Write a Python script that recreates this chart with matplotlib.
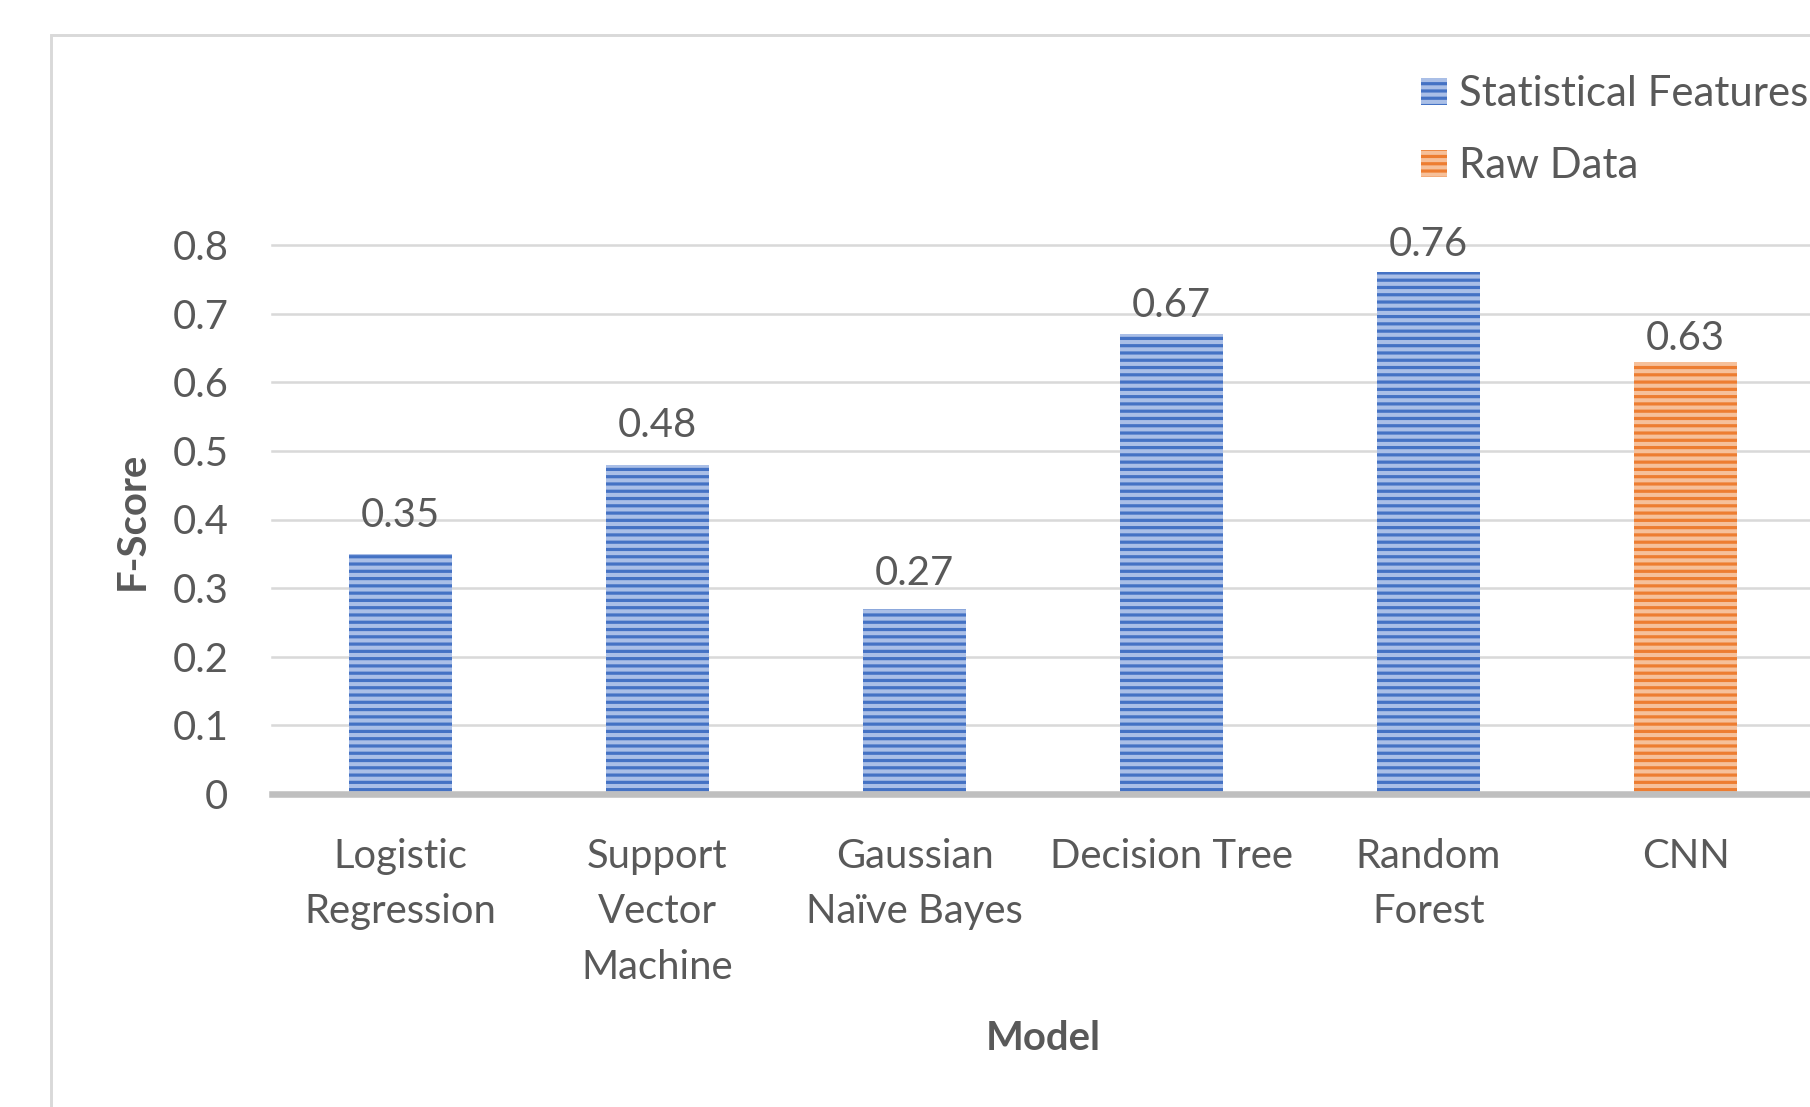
import matplotlib
matplotlib.use("Agg")
import matplotlib.pyplot as plt
from matplotlib.patches import Rectangle

# Data
models = ["Logistic\nRegression", "Support\nVector\nMachine", "Gaussian\nNaïve Bayes",
          "Decision Tree", "Random\nForest", "CNN"]
feature_models = models[:5]
feature_scores = [0.35, 0.48, 0.27, 0.67, 0.76]
raw_models = models[5:]
raw_scores = [0.63]
yticks = [0, 0.1, 0.2, 0.3, 0.4, 0.5, 0.6, 0.7, 0.8]

# gap (points) between bar top and its value label, as placed in the original
feature_label_gap = [14.7, 15, 13.2, 9.2, 9.2]
raw_label_gap = [6.2]

TEXT = "#595959"
GRID = "#d9d9d9"
BLUE = "#4472c4"
BLUE_LIGHT = "#aabfe7"
ORANGE = "#ed7d31"
ORANGE_LIGHT = "#f6c09a"

DPI = 131
FS = 22

plt.rcParams["font.family"] = ["Lato", "DejaVu Sans"]
plt.rcParams["hatch.linewidth"] = 1.75

fig = plt.figure(figsize=(1810 / DPI, 1107 / DPI), dpi=DPI)
ax = fig.add_axes([272 / 1810, 1 - 794 / 1107, 1542 / 1810, 549 / 1107])

x_feat = [models.index(m) for m in feature_models]
x_raw = [models.index(m) for m in raw_models]

bars1 = ax.bar(x_feat, feature_scores, width=0.4, color=BLUE_LIGHT, edgecolor=BLUE,
               linewidth=0, hatch="---", label="Statistical Features", zorder=2)
bars2 = ax.bar(x_raw, raw_scores, width=0.4, color=ORANGE_LIGHT, edgecolor=ORANGE,
               linewidth=0, hatch="---", label="Raw Data", zorder=2)

# data labels
for bars, vals, gaps in ((bars1, feature_scores, feature_label_gap),
                         (bars2, raw_scores, raw_label_gap)):
    for b, v, g in zip(bars, vals, gaps):
        ax.annotate(f"{v:.2f}", (b.get_x() + b.get_width() / 2, v),
                    xytext=(0, g), textcoords="offset points",
                    ha="center", va="baseline", fontsize=FS, color=TEXT)

ax.set_xlim(-0.5, len(models) - 0.5)
ax.set_ylim(0, 0.8)
ax.set_yticks(yticks)
ax.set_yticklabels([f"{t:g}" for t in yticks])
ax.set_xticks(range(len(models)))
ax.set_xticklabels(models, linespacing=1.62)
ax.tick_params(axis="y", length=0, pad=24, labelsize=FS, labelcolor=TEXT)
ax.tick_params(axis="x", length=0, pad=24, labelsize=FS, labelcolor=TEXT)

for s in ax.spines.values():
    s.set_visible(False)

ax.yaxis.grid(True, color=GRID, linewidth=1.4, zorder=0)
ax.set_axisbelow(True)
for gl in ax.get_ygridlines():
    gl.set_clip_on(False)
ax.axhline(0, color="#bfbfbf", linewidth=3.6, zorder=3, clip_on=False)

# axis titles
fig.text(132 / 1810, 1 - 521 / 1107, "F-Score", rotation=90, ha="center", va="center",
         fontsize=FS, fontweight="bold", color=TEXT)
fig.text(1043 / 1810, 1 - 1039 / 1107, "Model", ha="center", va="center",
         fontsize=FS, fontweight="bold", color=TEXT)

# legend
ax.legend(loc="upper left", bbox_to_anchor=(1421 / 1810, 1 - 75 / 1107),
          bbox_transform=fig.transFigure, frameon=False, fontsize=23,
          labelcolor=TEXT, handlelength=0.62, handleheight=0.6,
          handletextpad=0.3, labelspacing=0.82, borderpad=0, borderaxespad=0)

# outer chart border (cropped at right and bottom)
fig.patches.append(Rectangle((51 / 1810, -0.1), 1.2, 1.1 - 34.5 / 1107,
                             transform=fig.transFigure, fill=False,
                             edgecolor=GRID, linewidth=1.6))

fig.savefig("out.png", dpi=DPI)
